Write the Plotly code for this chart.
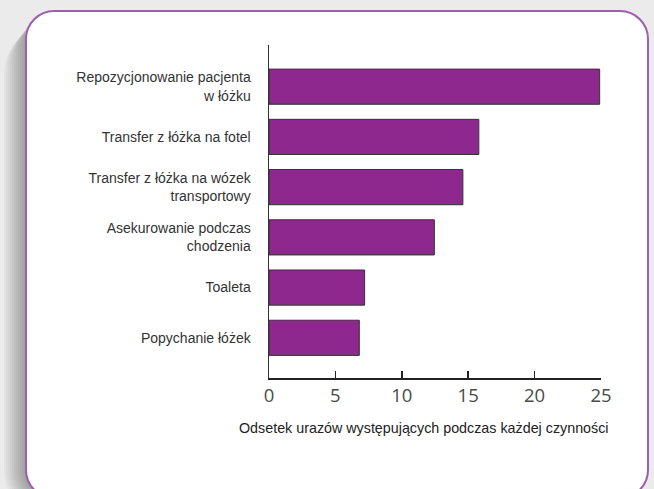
import plotly.graph_objects as go

categories = [
    "Repozycjonowanie pacjenta<br>w łóżku",
    "Transfer z łóżka na fotel",
    "Transfer z łóżka na wózek<br>transportowy",
    "Asekurowanie podczas<br>chodzenia",
    "Toaleta",
    "Popychanie łóżek",
]
values = [24.9, 15.8, 14.6, 12.45, 7.2, 6.8]
x_ticks = [0, 5, 10, 15, 20, 25]
x_title = "Odsetek urazów występujących podczas każdej czynności"

W, H = 654, 489
L, R, T, B = 269, 601, 45, 378


def px(x):
    return (x - L) / (R - L)


def py(y):
    return (B - y) / (B - T)


def rrect(x0, y0, x1, y1, r):
    k = 0.45 * r
    pts = [
        f"M {px(x0 + r)},{py(y0)}",
        f"L {px(x1 - r)},{py(y0)}",
        f"C {px(x1 - k)},{py(y0)} {px(x1)},{py(y0 + k)} {px(x1)},{py(y0 + r)}",
        f"L {px(x1)},{py(y1 - r)}",
        f"C {px(x1)},{py(y1 - k)} {px(x1 - k)},{py(y1)} {px(x1 - r)},{py(y1)}",
        f"L {px(x0 + r)},{py(y1)}",
        f"C {px(x0 + k)},{py(y1)} {px(x0)},{py(y1 - k)} {px(x0)},{py(y1 - r)}",
        f"L {px(x0)},{py(y0 + r)}",
        f"C {px(x0)},{py(y0 + k)} {px(x0 + k)},{py(y0)} {px(x0 + r)},{py(y0)}",
        "Z",
    ]
    return " ".join(pts)


shapes = []
# soft shadow on the left
for i in range(1, 12):
    d = i * 2
    shapes.append(dict(
        type="path", xref="paper", yref="paper", layer="below",
        path=rrect(26 - d, 11 + d * 0.6, 648 - d * 0.3, 498 + d, 28 + d),
        fillcolor="rgba(0,0,0,0.03)", line=dict(width=0),
    ))
shapes.append(dict(
    type="path", xref="paper", yref="paper", layer="below",
    path=rrect(26, 11, 648, 498, 28),
    fillcolor="white", line=dict(color="#9c5fb0", width=2),
))

fig = go.Figure(go.Bar(
    x=values, y=categories, orientation="h",
    marker=dict(color="#8e288e", line=dict(color="#333333", width=1)),
    width=0.7,
))

fig.update_layout(
    width=W, height=H,
    margin=dict(l=L, r=W - R, t=T, b=H - B, pad=0),
    paper_bgcolor="#ebebec",
    plot_bgcolor="rgba(0,0,0,0)",
    showlegend=False,
    shapes=shapes,
    annotations=[dict(
        text=x_title, xref="paper", yref="paper",
        x=px(424), y=py(428), xanchor="center", yanchor="middle",
        showarrow=False, font=dict(family="Liberation Sans", size=14.3, color="#222222"),
    )],
    xaxis=dict(
        range=[0, 25], tickvals=x_ticks, ticktext=[str(v) for v in x_ticks],
        showgrid=False, zeroline=False,
        showline=True, linecolor="#222222", linewidth=2,
        ticks="inside", ticklen=7, tickwidth=1.5, tickcolor="#222222",
        tickfont=dict(family="Open Sans", size=18.5, color="#4a4a4a"),
        ticklabelstandoff=0,
    ),
    yaxis=dict(
        range=[5.8, -0.83],
        showgrid=False, zeroline=False,
        showline=True, linecolor="#333333", linewidth=1.5,
        ticks="", ticklabelstandoff=14,
        tickfont=dict(family="Liberation Sans", size=14, color="#333333"),
    ),
)

fig.write_html(
    "out.html",
    config={"displayModeBar": False, "staticPlot": True},
    post_script="document.body.style.margin='0';document.body.style.overflow='hidden';",
)
